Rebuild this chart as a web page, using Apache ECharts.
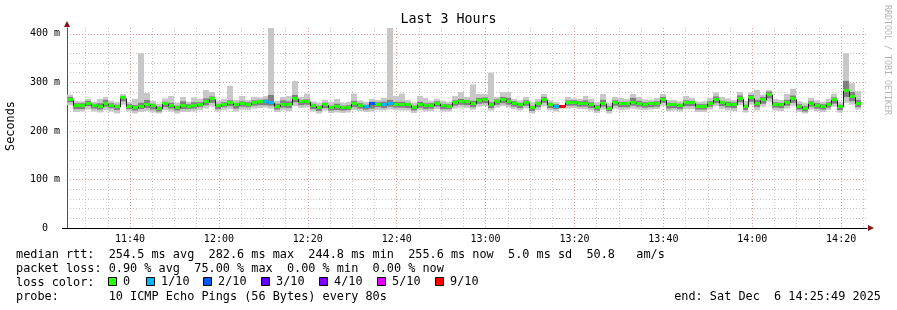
<!DOCTYPE html>
<html><head><meta charset="utf-8">
<script src="https://cdn.jsdelivr.net/npm/echarts@6/dist/echarts.min.js"></script>
<style>html,body{margin:0;padding:0;background:#fff}#c{width:897px;height:310px}</style>
</head><body><div id="c"></div><script>
// time: minutes of day; first step starts 11:25:49, one step per 80 s
const startMin = 11 * 60 + 25 + 49 / 60;
const stepMin = 80 / 60;
const endMin = startMin + 180;

// median rtt per step (ms)
const median = [264,252,252,256,251,249,255,252,249,267, 250,247,250,253,251,245,255,251,247,251,
 250,251,254,259,265,251,254,257,253,256, 254,258,259,259,258,250,254,253,266,259,
 260,251,247,253,247,249,247,248,255,252, 249,255,254,253,256,254,254,253,247,254,
 251,252,256,251,250,258,260,259,255,262, 263,253,260,263,260,256,253,258,247,255,
 264,253,250,249,258,258,256,256,253,248, 256,246,258,255,255,258,256,254,255,256,
 264,253,253,251,257,257,250,250,256,264, 257,254,253,266,249,267,256,263,275,254,
 253,258,265,250,246,256,252,250,254,263, 249,282,270,256,null];
// lost pings (of 10) per step
const loss = [0,0,0,0,0,0,0,0,0,0, 0,0,0,0,0,0,0,0,0,0, 0,0,0,0,0,0,0,0,0,0,
 0,0,0,1,1,0,0,0,0,0, 0,0,0,0,0,0,0,0,0,0, 1,2,0,1,1,0,0,0,0,0,
 0,0,0,0,0,0,0,0,0,0, 0,0,0,0,0,0,0,0,0,0, 0,0,1,9,0,0,0,0,0,0,
 0,0,0,0,0,0,0,0,0,0, 0,0,0,0,0,0,0,0,0,0, 0,0,0,0,0,0,0,0,0,0,
 0,0,0,0,0,0,0,0,0,0, 0,0,0,0,null];
// smoke: outer (min..max ping) and core band (ms)
const smokeHi = [275,262,261,266,260,266,270,262,259,276, 260,266,360,278,262,256,267,272,258,270,
 260,269,266,284,280,262,266,293,264,272, 264,270,269,272,412,262,270,272,303,270,
 277,261,258,264,260,266,258,260,277,263, 260,266,264,268,412,272,277,264,258,272,
 268,262,266,262,260,272,280,270,296,276, 276,320,270,280,280,266,263,270,259,266,
 276,263,259,252,270,267,266,272,266,259, 276,257,270,268,266,276,270,265,264,268,
 276,264,264,261,272,268,260,261,268,279, 270,267,264,280,262,279,285,275,284,266,
 264,276,287,261,257,268,263,260,266,276, 260,360,298,282,null];
const smokeLo = [253,239,240,244,240,238,243,240,236,254, 240,236,239,241,238,236,243,240,236,239,
 239,240,243,246,250,240,243,245,240,244, 243,246,247,248,246,239,242,241,251,247,
 248,240,236,242,237,238,237,238,243,241, 239,240,243,242,244,243,242,242,237,243,
 240,241,245,240,240,246,248,247,244,250, 251,242,248,251,248,245,242,246,236,243,
 251,242,240,246,246,247,245,245,242,237, 244,236,246,243,244,246,244,243,244,245,
 252,241,242,240,245,245,239,239,244,251, 245,242,241,253,238,254,242,250,260,242,
 241,246,252,239,236,244,241,239,243,250, 238,258,254,244,null];
const coreHi = [270,257,257,262,256,257,264,257,254,272, 255,253,258,264,256,250,260,258,252,261,
 255,259,259,267,271,256,259,263,258,261, 259,263,264,265,274,256,263,261,274,264,
 265,256,252,258,252,256,252,253,262,257, 254,260,259,260,264,260,260,258,252,260,
 257,257,261,256,255,263,266,264,262,268, 269,259,265,270,268,261,258,263,252,260,
 270,258,255,250,263,263,261,263,259,253, 264,251,263,260,260,268,262,259,260,261,
 270,258,258,256,263,262,255,255,261,271, 262,260,259,273,254,274,264,270,281,259,
 258,264,273,255,251,261,257,255,259,269, 254,303,280,264,null];
const coreLo = [259,245,245,251,246,244,250,247,243,261, 245,242,245,247,244,240,249,246,242,245,
 245,246,249,253,258,245,249,251,246,250, 249,252,253,253,252,244,248,247,259,253,
 254,245,241,247,242,243,242,243,249,246, 244,246,249,247,250,248,248,247,242,248,
 245,246,250,245,245,252,254,253,249,256, 257,247,254,257,254,250,247,252,241,249,
 258,247,245,248,252,252,250,250,247,242, 250,241,252,249,249,252,250,248,249,250,
 258,246,247,245,251,251,244,244,250,257, 251,248,247,259,243,260,249,256,267,248,
 247,252,258,244,240,250,246,244,248,256, 243,270,261,249,null];

const xTickLabels = ['11:40','12:00','12:20','12:40','13:00','13:20','13:40','14:00','14:20'];
const yTickLabels = ['0','100 m','200 m','300 m','400 m'];
const lossLegendLabels = ['0','1/10','2/10','3/10','4/10','5/10','9/10'];
const lossLegendColors = ['#26ff00','#00b8ff','#0059ff','#5e00ff','#7e00ff','#dd00ff','#ff0000'];

const MONO = '"DejaVu Sans Mono", monospace';
const toMin = s => { const p = s.split(':'); return +p[0] * 60 + +p[1]; };
const majorX = xTickLabels.map(toMin);
const minorX = [];
for (let m = 690; m <= endMin; m += 5) minorX.push(m);
const majorY = yTickLabels.map((_, i) => i * 100);
const minorY = [];
for (let v = 20; v <= 400; v += 20) minorY.push(v);

function lossColor(l) {
  if (l <= 0) return lossLegendColors[0];
  if (l <= 4) return lossLegendColors[l];
  if (l <= 8) return lossLegendColors[5];
  return lossLegendColors[6];
}

const smokeData = median.map((m, i) => [startMin + i * stepMin, smokeLo[i], smokeHi[i], coreLo[i], coreHi[i]]);
const medData = median.map((m, i) => [startMin + i * stepMin, m, i > 0 ? median[i - 1] : null, loss[i]]);

function renderSmoke(params, api) {
  const t = api.value(0);
  const lo = api.value(1), hi = api.value(2), clo = api.value(3), chi = api.value(4);
  if (isNaN(lo) || isNaN(hi)) return null;
  const x0 = Math.round(api.coord([t, 0])[0]);
  const x1 = Math.round(api.coord([t + stepMin, 0])[0]);
  const yLo = api.coord([t, lo])[1], yHi = api.coord([t, hi])[1];
  const yCLo = api.coord([t, clo])[1], yCHi = api.coord([t, chi])[1];
  return { type: 'group', children: [
    { type: 'rect', shape: { x: x0, y: yHi, width: x1 - x0, height: yLo - yHi }, style: { fill: '#c8c8c8' } },
    { type: 'rect', shape: { x: x0, y: yCHi, width: x1 - x0, height: yCLo - yCHi }, style: { fill: '#808080' } }
  ]};
}
function renderMedian(params, api) {
  const t = api.value(0), m = api.value(1), pm = api.value(2), l = api.value(3);
  if (isNaN(m)) return null;
  const x0 = Math.round(api.coord([t, 0])[0]);
  const x1 = Math.round(api.coord([t + stepMin, 0])[0]);
  const y = api.coord([t, m])[1];
  const children = [
    { type: 'line', shape: { x1: x0, y1: y, x2: x1, y2: y }, style: { stroke: '#202020', lineWidth: 1 } },
    { type: 'rect', shape: { x: x0, y: Math.round(y) - 2, width: x1 - x0, height: 3 }, style: { fill: lossColor(l) } }
  ];
  if (!isNaN(pm)) {
    const py = api.coord([t, pm])[1];
    children.push({ type: 'line', shape: { x1: x0 + 0.5, y1: py, x2: x0 + 0.5, y2: y }, style: { stroke: '#202020', lineWidth: 1 } });
  }
  return { type: 'group', children };
}

const chart = echarts.init(document.getElementById('c'), null, { renderer: 'canvas' });
const gridLineMinor = { show: true, lineStyle: { color: '#c8c8c8', type: [1, 2], width: 1 } };
const gridLineMajor = { show: true, lineStyle: { color: '#eb9a9a', type: [1, 2], width: 1 } };
const labelFont = { fontFamily: MONO, fontSize: 10, color: '#000' };
const textFont = '11.85px ' + MONO;

const legendGraphics = [];
const boxX = [108, 146, 203, 261, 319, 377, 435];
lossLegendLabels.forEach((lab, i) => {
  legendGraphics.push({ type: 'rect', shape: { x: boxX[i] + 0.5, y: 277.5, width: 8, height: 8 },
    style: { fill: lossLegendColors[i], stroke: '#000', lineWidth: 1 } });
  legendGraphics.push({ type: 'text', x: boxX[i] + 15, y: 282,
    style: { text: lab, font: textFont, fill: '#000', align: 'left', verticalAlign: 'middle' } });
});

chart.setOption({
  animation: false,
  backgroundColor: '#fff',
  grid: { left: 67, right: 30, top: 28, bottom: 82, containLabel: false, outerBoundsMode: 'none' },
  xAxis: [
    { type: 'value', position: 'bottom', min: startMin, max: endMin,
      axisLine: { show: false }, axisLabel: { show: false },
      axisTick: { show: false, customValues: minorX }, splitLine: gridLineMinor },
    { type: 'value', position: 'bottom', min: startMin, max: endMin,
      axisLine: { show: true, onZero: false, lineStyle: { color: '#000', width: 1 } },
      axisTick: { show: false, customValues: majorX },
      axisLabel: { show: true, customValues: majorX, margin: 6, ...labelFont,
        formatter: v => xTickLabels[majorX.indexOf(Math.round(v))] || '' },
      splitLine: gridLineMajor }
  ],
  yAxis: [
    { type: 'value', position: 'left', min: 0, max: 412,
      axisLine: { show: false }, axisLabel: { show: false },
      axisTick: { show: false, customValues: minorY }, splitLine: gridLineMinor },
    { type: 'value', position: 'left', min: 0, max: 412,
      axisLine: { show: true, onZero: false, lineStyle: { color: '#505050', width: 1 } },
      axisTick: { show: false, customValues: majorY },
      axisLabel: { show: true, customValues: majorY, margin: 7, ...labelFont,
        formatter: v => { const s = yTickLabels[Math.round(v / 100)] || ''; return s.indexOf(' ') < 0 ? s + '  ' : s; } },
      splitLine: gridLineMajor }
  ],
  series: [
    { type: 'custom', xAxisIndex: 1, yAxisIndex: 1, renderItem: renderSmoke, data: smokeData,
      encode: { x: 0, y: [1, 2] }, clip: true, z: 2 },
    { type: 'custom', xAxisIndex: 1, yAxisIndex: 1, renderItem: renderMedian, data: medData,
      encode: { x: 0, y: 1 }, clip: true, z: 3 }
  ],
  graphic: [
    { type: 'text', x: 448.5, y: 20, style: { text: 'Last 3 Hours', font: '13.3px ' + MONO, fill: '#000', align: 'center', verticalAlign: 'middle' } },
    { type: 'text', x: 11, y: 126, rotation: Math.PI / 2, style: { text: 'Seconds', font: textFont, fill: '#000', align: 'center', verticalAlign: 'middle' } },
    { type: 'text', x: 887.5, y: 60, rotation: -Math.PI / 2, style: { text: 'RRDTOOL / TOBI OETIKER', font: '8.3px ' + MONO, fill: '#b4b4b4', align: 'center', verticalAlign: 'middle' } },
    { type: 'polygon', shape: { points: [[64, 27], [70, 27], [67, 21]] }, style: { fill: '#8b1010' } },
    { type: 'polygon', shape: { points: [[868, 225], [868, 231], [874, 228]] }, style: { fill: '#8b1010' } },
    { type: 'line', shape: { x1: 62, y1: 228.5, x2: 67, y2: 228.5 }, style: { stroke: '#000', lineWidth: 1 } },
    { type: 'text', x: 16, y: 254.5, style: { text: 'median rtt:  254.5 ms avg  282.6 ms max  244.8 ms min  255.6 ms now  5.0 ms sd  50.8   am/s', font: textFont, fill: '#000', align: 'left', verticalAlign: 'middle' } },
    { type: 'text', x: 16, y: 268.5, style: { text: 'packet loss: 0.90 % avg  75.00 % max  0.00 % min  0.00 % now', font: textFont, fill: '#000', align: 'left', verticalAlign: 'middle' } },
    { type: 'text', x: 16, y: 282.5, style: { text: 'loss color:', font: textFont, fill: '#000', align: 'left', verticalAlign: 'middle' } },
    ...legendGraphics,
    { type: 'text', x: 16, y: 296.5, style: { text: 'probe:       10 ICMP Echo Pings (56 Bytes) every 80s', font: textFont, fill: '#000', align: 'left', verticalAlign: 'middle' } },
    { type: 'text', x: 881, y: 296.5, style: { text: 'end: Sat Dec  6 14:25:49 2025', font: textFont, fill: '#000', align: 'right', verticalAlign: 'middle' } }
  ]
});
</script></body></html>
